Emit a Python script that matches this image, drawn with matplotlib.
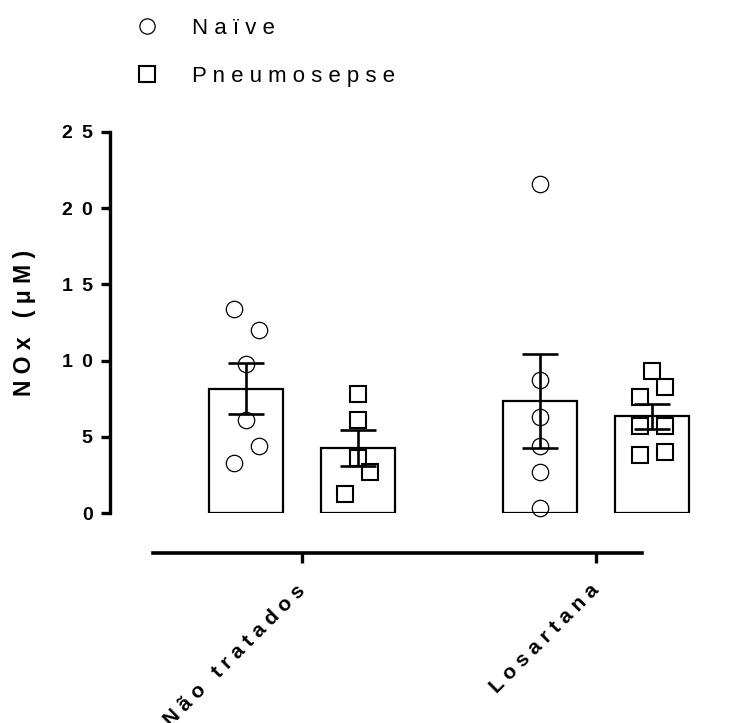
import numpy as np
import matplotlib
matplotlib.use("Agg")
import matplotlib.pyplot as plt
from matplotlib.lines import Line2D

# ---------------- data ----------------
categories = ['Não tratados', 'Losartana']
series = ['Naïve', 'Pneumosepse']
naive_points = [[13.4, 12.0, 9.8, 6.1, 4.4, 3.3],
                [21.6, 8.7, 6.3, 4.4, 2.7, 0.3]]
pneumo_points = [[7.8, 6.1, 3.6, 2.7, 1.25],
                 [9.3, 8.3, 7.6, 5.7, 5.7, 3.8, 4.0]]
y_ticks = [0, 5, 10, 15, 20, 25]
y_label = 'NOx (μM)'

# ---------------- layout (positions / styles) ----------------
naive_jitter = [[-0.042, 0.044, 0.0, 0.0, 0.044, -0.042],
                [0.0, 0.0, 0.0, 0.0, 0.0, 0.0]]
pneumo_jitter = [[0.0, 0.0, 0.0, 0.044, -0.044],
                 [0.0, 0.044, -0.041, -0.041, 0.044, -0.041, 0.044]]
bar_offset = 0.189
bar_width = 0.252

plt.rcParams['font.family'] = ['Liberation Sans', 'DejaVu Sans']


def spaced(s, gap=' '):
    return gap.join(list(s))


W, H = 734, 723
fig = plt.figure(figsize=(W / 100, H / 100), dpi=100)
ax = fig.add_axes([110 / W, 1 - 513 / H, (722 - 110) / W, (513 - 132) / H])

x = np.arange(len(categories))
groups = [(naive_points, naive_jitter, -bar_offset, 'o', 0.9),
          (pneumo_points, pneumo_jitter, bar_offset, 's', 1.5)]

for pts_list, jit_list, off, mk, mew in groups:
    means = [np.mean(p) for p in pts_list]
    sems = [np.std(p, ddof=1) / np.sqrt(len(p)) for p in pts_list]
    ax.bar(x + off, means, width=bar_width, facecolor='white',
           edgecolor='black', linewidth=1.6, zorder=1)
    for i, (p, j) in enumerate(zip(pts_list, jit_list)):
        ax.plot(x[i] + off + np.array(j), p, ls='none', marker=mk, ms=11.8,
                mfc='none', mec='black', mew=mew, zorder=2, clip_on=False)
    ax.errorbar(x + off, means, yerr=sems, fmt='none', ecolor='black',
                elinewidth=1.9, capsize=13.3, capthick=1.9, zorder=3)

ax.set_xlim(-0.653, (722 - 302) / 294)
ax.set_ylim(0, 25)

for s in ['top', 'right']:
    ax.spines[s].set_visible(False)
ax.spines['left'].set_linewidth(2.4)
ax.spines['left'].set_bounds(0, 25)
ax.spines['bottom'].set_linewidth(2.6)
ax.spines['bottom'].set_position(('outward', 28.8))
ax.spines['bottom'].set_bounds(-0.507, 1.156)

bold_gap = ' \u2009'
ax.set_yticks(y_ticks)
ax.set_yticklabels([spaced(str(t), bold_gap) for t in y_ticks],
                   fontsize=14, fontweight='bold')
ax.tick_params(axis='y', direction='out', length=6.5, width=2.4, pad=6)
ax.set_xticks(x)
ax.set_xticklabels([spaced(c, ' ') for c in categories], fontsize=15,
                   fontweight='bold', rotation=45, ha='right', va='center',
                   rotation_mode='anchor')
ax.tick_params(axis='x', direction='out', length=7, width=2.4, pad=18)

ax.set_ylabel(spaced(y_label, ' '), fontsize=16.5, fontweight='bold')
ax.yaxis.label.set_va('center')
ax.yaxis.set_label_coords((25 - 110) / 612, 0.5)

handles = [Line2D([], [], ls='none', marker='o', ms=11, mfc='none',
                  mec='black', mew=0.9),
           Line2D([], [], ls='none', marker='s', ms=11, mfc='none',
                  mec='black', mew=1.5)]
fig.legend(handles, [spaced(s) for s in series], loc='upper left',
           bbox_to_anchor=(125 / W, 1 - 18 / H), frameon=False,
           fontsize=16, handlelength=2.0, handletextpad=1.0,
           borderpad=0, borderaxespad=0, labelspacing=1.2)

fig.savefig('out.png', dpi=100)
